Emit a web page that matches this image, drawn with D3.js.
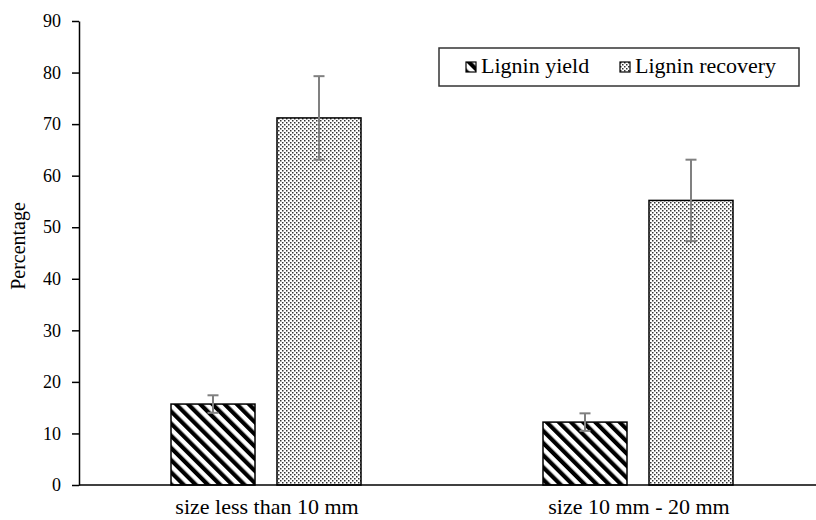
<!DOCTYPE html>
<html>
<head>
<meta charset="utf-8">
<script src="https://cdn.jsdelivr.net/npm/d3@7/dist/d3.min.js"></script>
<style>
	body { margin: 0; background: #fff; }
	svg text { font-family: "Liberation Serif", "Times New Roman", serif; fill: #000; }
</style>
</head>
<body>
<div id="chart"></div>
<script>
var categories = ["size less than 10 mm", "size 10 mm - 20 mm"];
var series = ["Lignin yield", "Lignin recovery"];
var yieldValues = [15.7, 12.2];
var yieldErrors = [1.7, 1.7];
var recoveryValues = [71.2, 55.2];
var recoveryErrors = [8.1, 7.9];
var yTicks = [0, 10, 20, 30, 40, 50, 60, 70, 80, 90];

var width = 816, height = 520;

var svg = d3.select("#chart").append("svg")
		.attr("width", width)
		.attr("height", height);

// Patterns
var defs = svg.append("defs");
defs.append("pattern")
		.attr("id", "hatch")
		.attr("patternUnits", "userSpaceOnUse")
		.attr("width", 8.6)
		.attr("height", 8.6)
		.attr("patternTransform", "rotate(-45)")
	.append("rect")
		.attr("width", 4.2)
		.attr("height", 8.6)
		.attr("fill", "#000");

var dots = defs.append("pattern")
		.attr("id", "dots")
		.attr("patternUnits", "userSpaceOnUse")
		.attr("width", 4)
		.attr("height", 4);
dots.append("rect").attr("width", 4).attr("height", 4).attr("fill", "#fff");
dots.append("rect").attr("x", 0).attr("y", 0).attr("width", 1.5).attr("height", 1.5).attr("fill", "#333");
dots.append("rect").attr("x", 2).attr("y", 2).attr("width", 1.5).attr("height", 1.5).attr("fill", "#333");

var fills = {"Lignin yield": "url(#hatch)", "Lignin recovery": "url(#dots)"};

// Scales
var x0 = d3.scaleBand().domain(categories).range([80, 824]);
var groupWidth = 190;
var x1 = d3.scaleBand().domain(series).range([0, groupWidth]).paddingInner(0.2075);
var y = d3.scaleLinear().domain([0, 90]).range([485, 21]);

var rows = [];
categories.forEach(function(c, i) {
	rows.push({cat: c, name: series[0], value: yieldValues[i], err: yieldErrors[i]});
	rows.push({cat: c, name: series[1], value: recoveryValues[i], err: recoveryErrors[i]});
});
function barX(d) { return x0(d.cat) + (x0.bandwidth() - groupWidth) / 2 + x1(d.name); }

// Bars
svg.append("g").selectAll("rect")
	.data(rows)
	.enter().append("rect")
		.attr("x", barX)
		.attr("y", function(d) { return y(d.value); })
		.attr("width", x1.bandwidth())
		.attr("height", function(d) { return y(0) - y(d.value); })
		.attr("fill", function(d) { return fills[d.name]; })
		.attr("stroke", "#000")
		.attr("stroke-width", 1.5);

// Error bars
var err = svg.append("g")
		.attr("stroke", "#808080")
		.attr("stroke-width", 2)
		.selectAll("g")
	.data(rows)
	.enter().append("g")
		.attr("transform", function(d) { return "translate(" + (barX(d) + x1.bandwidth() / 2) + ",0)"; });
err.append("line")
		.attr("y1", function(d) { return y(d.value + d.err); })
		.attr("y2", function(d) { return y(d.value - d.err); });
err.append("line")
		.attr("x1", -5.5).attr("x2", 5.5)
		.attr("y1", function(d) { return y(d.value + d.err); })
		.attr("y2", function(d) { return y(d.value + d.err); });
err.append("line")
		.attr("x1", -5.5).attr("x2", 5.5)
		.attr("y1", function(d) { return y(d.value - d.err); })
		.attr("y2", function(d) { return y(d.value - d.err); });

// Y axis
var yAxis = svg.append("g")
		.attr("transform", "translate(79,0)")
		.call(d3.axisLeft(y).tickValues(yTicks).tickSize(7).tickSizeOuter(0).tickPadding(11));
yAxis.attr("font-family", null);
yAxis.select(".domain").attr("stroke", "#000").attr("stroke-width", 1.5);
yAxis.selectAll(".tick line").attr("stroke", "#000").attr("stroke-width", 1.5);
yAxis.selectAll(".tick text")
		.style("font-size", "18px");

// X axis line
svg.append("line")
		.attr("x1", 79).attr("x2", width)
		.attr("y1", y(0)).attr("y2", y(0))
		.attr("stroke", "#000")
		.attr("stroke-width", 1.5);

svg.append("g").selectAll("text")
	.data(categories)
	.enter().append("text")
		.attr("x", function(d) { return x0(d) + x0.bandwidth() / 2 + 1; })
		.attr("y", 514)
		.attr("text-anchor", "middle")
		.style("font-size", "22px")
		.text(function(d) { return d; });

// Y label
svg.append("text")
		.attr("transform", "translate(25,246) rotate(-90)")
		.attr("text-anchor", "middle")
		.style("font-size", "20px")
		.text("Percentage");

// Legend
var legend = svg.append("g").attr("class", "legend");
legend.append("rect")
		.attr("x", 439).attr("y", 48)
		.attr("width", 360).attr("height", 38)
		.attr("fill", "#fff")
		.attr("stroke", "#333")
		.attr("stroke-width", 1.5);
var legendX = [466, 620];
var item = legend.selectAll(".legend-item")
	.data(series)
	.enter().append("g")
		.attr("class", "legend-item")
		.attr("transform", function(d, i) { return "translate(" + legendX[i] + ",62)"; });
item.append("rect")
		.attr("width", 10).attr("height", 10)
		.attr("fill", function(d) { return fills[d]; })
		.attr("stroke", "#000")
		.attr("stroke-width", 1.2);
item.append("text")
		.attr("x", 15)
		.attr("y", 10.5)
		.style("font-size", "22px")
		.text(function(d) { return d; });
</script>
</body>
</html>
